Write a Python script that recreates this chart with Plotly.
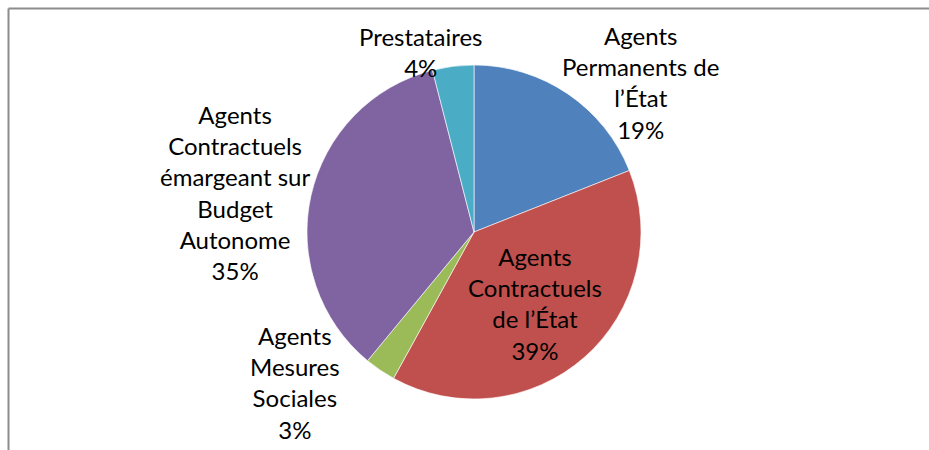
import plotly.graph_objects as go

# Répartition du personnel par statut (en %)
categories = [
    "Agents Permanents de l’État",
    "Agents Contractuels de l’État",
    "Agents Mesures Sociales",
    "Agents Contractuels émargeant sur Budget Autonome",
    "Prestataires",
]
values = [19, 39, 3, 35, 4]
wrapped_names = [
    ["Agents", "Permanents de", "l’État"],
    ["Agents", "Contractuels", "de l’État"],
    ["Agents", "Mesures", "Sociales"],
    ["Agents", "Contractuels", "émargeant sur", "Budget", "Autonome"],
    ["Prestataires"],
]
colors = ["#4F81BD", "#C0504D", "#9BBB59", "#8064A2", "#4BACC6"]

W, H = 929, 450
cx, cy, r = 474, 232, 167  # pie centre and radius in pixels

# label anchor points (pixels from top-left)
label_pos = [(640, 83), (535, 303), (295, 382), (235, 192), (420, 52)]

fig = go.Figure(
    go.Pie(
        labels=categories,
        values=values,
        sort=False,
        direction="clockwise",
        rotation=0,
        marker=dict(colors=colors, line=dict(color="rgba(255,255,255,0.6)", width=1)),
        textinfo="none",
        hoverinfo="label+percent",
        showlegend=False,
        domain=dict(
            x=[(cx - r) / W, (cx + r) / W],
            y=[(H - cy - r) / H, (H - cy + r) / H],
        ),
    )
)

font = dict(family="Lato, Calibri, Carlito, sans-serif", size=24, color="#000000")
for lines, v, (px, py) in zip(wrapped_names, values, label_pos):
    fig.add_annotation(
        x=px / W, y=1 - py / H, xref="paper", yref="paper",
        text="<br>".join(lines + [f"{v}%"]),
        showarrow=False, xanchor="center", yanchor="middle",
        align="center", font=font,
    )

# chart area frame (top and left edges)
frame = dict(type="line", xref="paper", yref="paper",
             line=dict(color="#8C8C8C", width=2))
fig.add_shape(x0=8.5 / W, x1=1.0, y0=1 - 8.5 / H, y1=1 - 8.5 / H, **frame)
fig.add_shape(x0=8.5 / W, x1=8.5 / W, y0=0.0, y1=1 - 8.5 / H, **frame)

fig.update_layout(
    width=W, height=H,
    margin=dict(l=0, r=0, t=0, b=0),
    paper_bgcolor="white", plot_bgcolor="white",
)

fig.write_html("out.html")
